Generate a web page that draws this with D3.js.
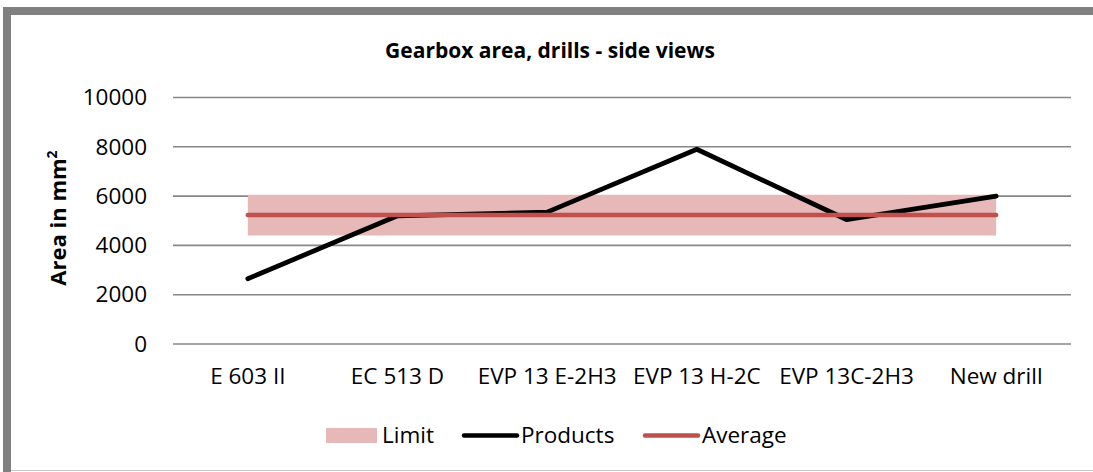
<!DOCTYPE html>
<html>
<head>
<meta charset="utf-8">
<script src="https://d3js.org/d3.v7.min.js"></script>
<style>
  body { margin: 0; background: #fff; }
  svg { display: block; font-family: "Open Sans", sans-serif; }
</style>
</head>
<body>
<script>
// chart values
var categories = ["E 603 II", "EC 513 D", "EVP 13 E-2H3", "EVP 13 H-2C", "EVP 13C-2H3", "New drill"];
var products = [2650, 5200, 5350, 7900, 5050, 6000];
var average = [5230, 5230, 5230, 5230, 5230, 5230];
var limitLow = [4400, 4400, 4400, 4400, 4400, 4400];
var limitHigh = [6050, 6050, 6050, 6050, 6050, 6050];
var yTicks = [0, 2000, 4000, 6000, 8000, 10000];

var W = 1093, H = 472;
var svg = d3.select("body").append("svg")
    .attr("width", W)
    .attr("height", H);

// outer frame (grey, cropped on right/bottom)
svg.append("rect").attr("x", 0).attr("y", 0).attr("width", W).attr("height", H).attr("fill", "#fff");
svg.append("line").attr("x1", 3).attr("x2", W).attr("y1", 11).attr("y2", 11)
    .attr("stroke", "#808080").attr("stroke-width", 8);
svg.append("line").attr("x1", 7).attr("x2", 7).attr("y1", 7).attr("y2", H)
    .attr("stroke", "#808080").attr("stroke-width", 8);
svg.append("line").attr("x1", 11).attr("x2", W).attr("y1", 470.5).attr("y2", 470.5)
    .attr("stroke", "#c8c8c8").attr("stroke-width", 1);

// scales
var x = d3.scaleBand().domain(categories).range([173, 1071]);
var y = d3.scaleLinear().domain([0, 10000]).range([344, 97.5]);
var cx = function(i) { return x(categories[i]) + x.bandwidth() / 2; };

// gridlines
svg.append("g").selectAll("line")
    .data(yTicks)
    .enter().append("line")
    .attr("x1", 173).attr("x2", 1071)
    .attr("y1", function(d) { return y(d); })
    .attr("y2", function(d) { return y(d); })
    .attr("stroke", "#878787")
    .attr("stroke-width", 1.6);

// y axis labels
svg.append("g")
    .attr("transform", "translate(173,0)")
    .call(d3.axisLeft(y).tickValues(yTicks).tickSize(0).tickPadding(26).tickFormat(d3.format("d")))
    .call(function(g) { g.select(".domain").remove(); })
    .selectAll("text")
    .attr("font-family", "Open Sans, sans-serif")
    .attr("font-size", "22.5px")
    .attr("fill", "#000");

// x axis labels
svg.append("g")
    .attr("transform", "translate(0,344)")
    .call(d3.axisBottom(x).tickSize(0).tickPadding(24))
    .call(function(g) { g.select(".domain").remove(); })
    .selectAll("text")
    .attr("font-family", "Open Sans, sans-serif")
    .attr("font-size", "22.5px")
    .attr("fill", "#000");

// limit band
var area = d3.area()
    .x(function(d, i) { return cx(i); })
    .y0(function(d, i) { return y(limitLow[i]); })
    .y1(function(d, i) { return y(limitHigh[i]); });
svg.append("path")
    .datum(categories)
    .attr("d", area)
    .attr("fill", "#e6b9b8");

var line = function(vals) {
    return d3.line()
        .x(function(d, i) { return cx(i); })
        .y(function(d) { return y(d); })(vals);
};

// products
svg.append("path")
    .attr("d", line(products))
    .attr("fill", "none")
    .attr("stroke", "#000")
    .attr("stroke-width", 4.8)
    .attr("stroke-linecap", "round")
    .attr("stroke-linejoin", "round");

// average
svg.append("path")
    .attr("d", line(average))
    .attr("fill", "none")
    .attr("stroke", "#c0504d")
    .attr("stroke-width", 4.5)
    .attr("stroke-linecap", "round");

// title
svg.append("text")
    .attr("x", 550)
    .attr("y", 58)
    .attr("text-anchor", "middle")
    .attr("font-weight", "bold")
    .attr("font-size", "21px")
    .text("Gearbox area, drills - side views");

// y axis title
var yt = svg.append("text")
    .attr("transform", "translate(66,218) rotate(-90)")
    .attr("text-anchor", "middle")
    .attr("font-weight", "bold")
    .attr("font-size", "22px");
yt.append("tspan").text("Area in mm");
yt.append("tspan").attr("font-size", "14px").attr("dy", "-9").text("2");

// legend
var lg = svg.append("g").attr("font-size", "22.5px");
lg.append("rect").attr("x", 326).attr("y", 428).attr("width", 51).attr("height", 15).attr("fill", "#e6b9b8");
lg.append("text").attr("x", 382).attr("y", 443).text("Limit");
lg.append("line").attr("x1", 464).attr("x2", 517).attr("y1", 435.5).attr("y2", 435.5)
    .attr("stroke", "#000").attr("stroke-width", 4.5).attr("stroke-linecap", "round");
lg.append("text").attr("x", 521).attr("y", 443).text("Products");
lg.append("line").attr("x1", 645).attr("x2", 698).attr("y1", 435.5).attr("y2", 435.5)
    .attr("stroke", "#c0504d").attr("stroke-width", 4.5).attr("stroke-linecap", "round");
lg.append("text").attr("x", 702).attr("y", 443).text("Average");
</script>
</body>
</html>
